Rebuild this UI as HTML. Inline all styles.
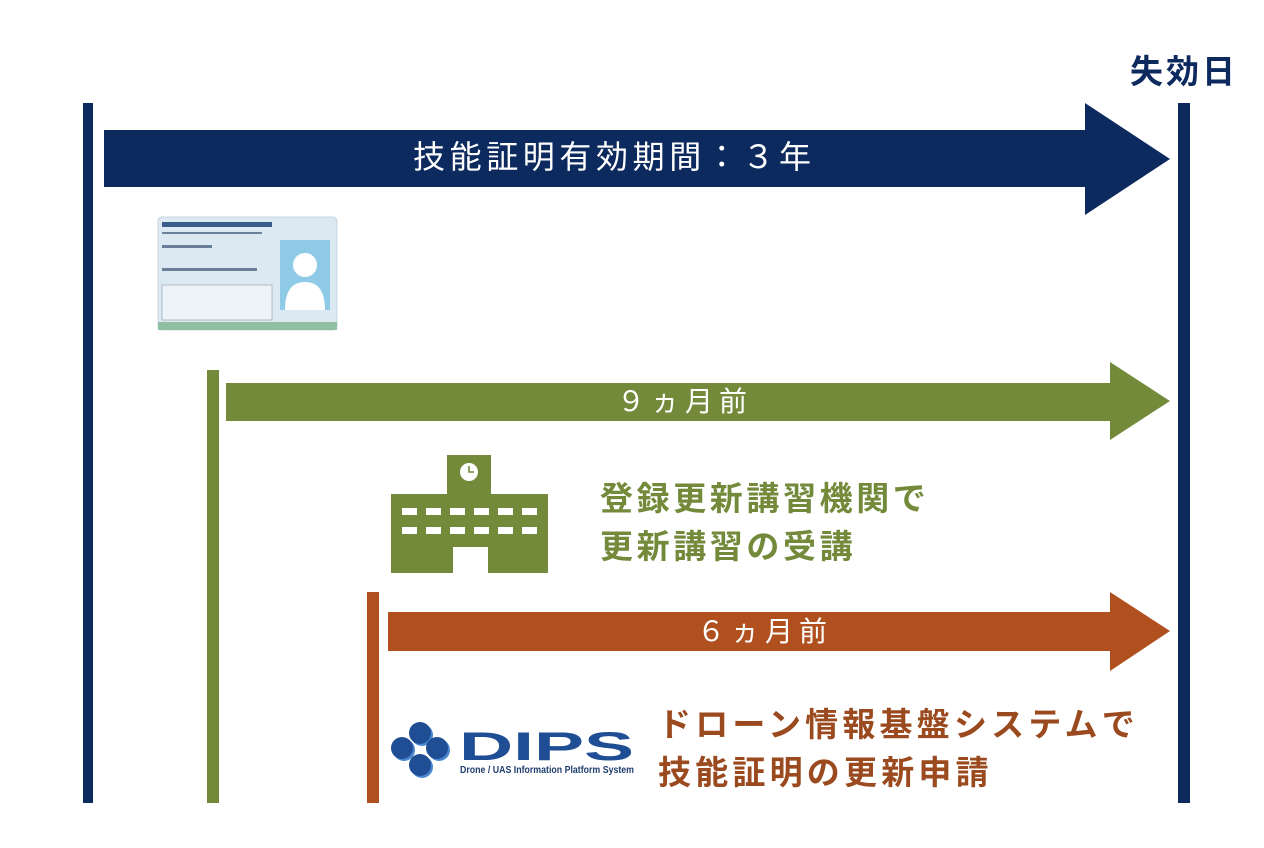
<!DOCTYPE html>
<html><head><meta charset="utf-8"><style>
body{margin:0;width:1264px;height:848px;background:#fff;position:relative;overflow:hidden;font-family:"Liberation Sans","Noto Sans CJK JP",sans-serif}
.a{position:absolute}
.t{position:absolute;white-space:nowrap;line-height:1}
</style></head><body>
<svg class="a" style="left:0;top:0" width="1264" height="848">
<rect x="83" y="103" width="10" height="700" fill="#0d2a5e"/>
<rect x="1178" y="103" width="12" height="700" fill="#0d2a5e"/>
<polygon points="104,130 1085,130 1085,103 1170,159 1085,215 1085,187 104,187" fill="#0d2a5e"/>
<rect x="207" y="370" width="12" height="433" fill="#738a3b"/>
<polygon points="226,383 1110,383 1110,362 1170,401 1110,440 1110,421 226,421" fill="#738a3b"/>
<rect x="367" y="592" width="12" height="211" fill="#b0501f"/>
<polygon points="388,612 1110,612 1110,592 1170,631 1110,671 1110,651 388,651" fill="#b0501f"/>
<!-- card -->
<rect x="158" y="217" width="179" height="113" rx="4" fill="#dce9f3" stroke="#c8d4dc"/>
<rect x="158" y="322" width="179" height="8" fill="#8fc0a4"/>
<rect x="280" y="240" width="50" height="70" fill="#8fcbe6"/>
<circle cx="305" cy="265" r="12" fill="#fff"/>
<path d="M285 310 Q285 282 305 282 Q325 282 325 310Z" fill="#fff"/>
<rect x="162" y="222" width="110" height="5" fill="#3a5a8a"/>
<rect x="162" y="232" width="100" height="2" fill="#6a7f9a"/>
<rect x="162" y="245" width="50" height="3" fill="#6a7f9a"/>
<rect x="162" y="268" width="95" height="3" fill="#6a7f9a"/>
<rect x="162" y="285" width="110" height="35" fill="#eef3f7" stroke="#8a9aaa" stroke-width="0.6"/>
<!-- building -->
<rect x="447" y="455" width="44" height="40" fill="#738a3b"/>
<circle cx="469" cy="472" r="9" fill="#fff"/>
<path d="M469 466 V472 H474" stroke="#738a3b" stroke-width="1.6" fill="none"/>
<rect x="391" y="494" width="157" height="79" fill="#738a3b"/>
<rect x="453" y="547" width="35" height="26" fill="#fff"/>
<g fill="#fff">
<rect x="402" y="508" width="15" height="7"/><rect x="426" y="508" width="15" height="7"/><rect x="450" y="508" width="15" height="7"/><rect x="474" y="508" width="15" height="7"/><rect x="498" y="508" width="15" height="7"/><rect x="522" y="508" width="15" height="7"/>
<rect x="402" y="527" width="15" height="7"/><rect x="426" y="527" width="15" height="7"/><rect x="450" y="527" width="15" height="7"/><rect x="474" y="527" width="15" height="7"/><rect x="498" y="527" width="15" height="7"/><rect x="522" y="527" width="15" height="7"/>
</g>
<!-- DIPS logo -->
<g fill="#4a86d0">
<circle cx="422" cy="735" r="11"/><circle cx="404" cy="750" r="11"/><circle cx="439" cy="750" r="11"/><circle cx="422" cy="767" r="11"/>
</g>
<g fill="#1f4e94">
<circle cx="420" cy="733" r="11"/><circle cx="402" cy="748" r="11"/><circle cx="437" cy="748" r="11"/><circle cx="420" cy="765" r="11"/>
</g>
<text x="459" y="760" font-family="Liberation Sans" font-weight="bold" font-size="40" fill="#1f4e94" textLength="175" lengthAdjust="spacingAndGlyphs">DIPS</text>
<text x="460" y="773" font-family="Liberation Sans" font-weight="bold" font-size="10" fill="#1f3e6e" textLength="174" lengthAdjust="spacingAndGlyphs">Drone / UAS Information Platform System</text>
</svg>
<div class="t" style="left:1130px;top:55px;font-size:33px;font-weight:bold;color:#0d2a5e;letter-spacing:3px">失効日</div>
<div class="t" style="left:413px;top:141px;font-size:32px;color:#fff;letter-spacing:4.6px">技能証明有効期間：３年</div>
<div class="t" style="left:617px;top:388px;font-size:28px;color:#fff;letter-spacing:6px">９ヵ月前</div>
<div class="t" style="left:697px;top:618px;font-size:28px;color:#fff;letter-spacing:6px">６ヵ月前</div>
<div class="t" style="left:600px;top:475px;font-size:33px;font-weight:bold;color:#738a3b;line-height:48px;white-space:normal;width:400px;letter-spacing:3.6px">登録更新講習機関で<br>更新講習の受講</div>
<div class="t" style="left:658px;top:701px;font-size:33px;font-weight:bold;color:#9a4a1e;line-height:48px;white-space:normal;width:560px;letter-spacing:4.2px">ドローン情報基盤システムで<br>技能証明の更新申請</div>
</body></html>
